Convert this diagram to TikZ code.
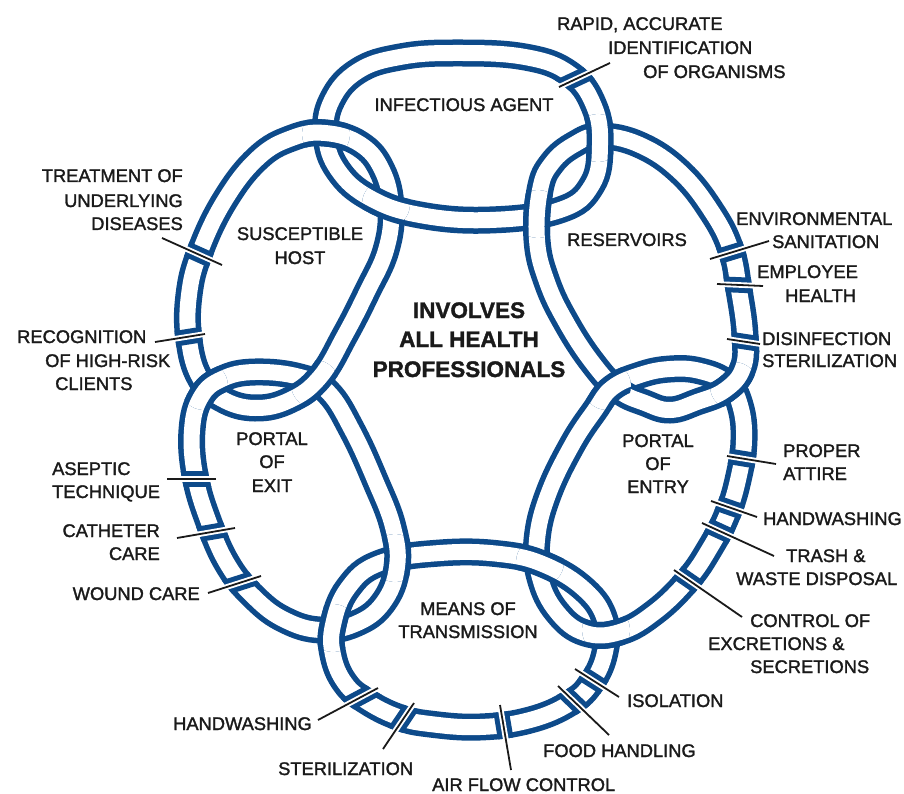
\documentclass[tikz,border=0pt]{standalone}
\usepackage{fontspec}
\setmainfont{Liberation Sans}[FakeBold=1.6]
\usetikzlibrary{calc}
\definecolor{ringblue}{HTML}{0D4A8A}
\definecolor{ink}{HTML}{1A1A1A}
\def\ringA{plot[smooth cycle,tension=0.7] coordinates {(455,53) (525,57) (570,74) (594,106) (600,145) (592,185) (560,210) (490,220) (420,215) (370,198) (338,170) (326,135) (332,100) (358,71) (400,57)}}
\def\ringB{plot[smooth cycle,tension=0.7] coordinates {(325,133) (360,144) (382,170) (391,208) (386,250) (367,292) (345,335) (320,377) (290,400) (255,408) (222,399) (200,378) (189,340) (189,295) (200,252) (225,200) (258,158) (292,138)}}
\def\ringC{plot[smooth cycle,tension=0.7] coordinates {(255,372) (300,377) (328,392) (352,430) (375,480) (393,527) (397,567) (383,603) (355,624) (320,630) (285,620) (255,598) (228,565) (208,520) (195,475) (192,430) (201,397) (222,379)}}
\def\ringD{plot[smooth cycle,tension=0.7] coordinates {(440,553) (500,554) (545,565) (585,590) (605,620) (605,652) (592,682) (570,703) (530,720) (480,727) (430,724) (398,717) (366,701) (345,683) (333,655) (333,625) (348,588) (380,563)}}
\def\ringE{plot[smooth cycle,tension=0.7] coordinates {(612,388) (640,375) (670,369) (700,371) (727,383) (740,405) (744,440) (738,480) (727,515) (710,548) (688,580) (655,612) (620,632) (585,633) (557,612) (540,578) (537,540) (548,495) (572,445) (595,410)}}
\def\ringF{plot[smooth cycle,tension=0.7] coordinates {(600,136) (640,145) (680,172) (712,212) (731,250) (739,290) (745,335) (743,368) (725,390) (697,402) (670,410) (645,403) (618,390) (592,362) (566,322) (547,282) (537,240) (540,190) (552,163) (575,144)}}
\newcommand\ringband[1]{\draw[bandout] #1; \draw[bandin] #1;}
\newcommand\xover[3]{\begin{scope}\clip #2 circle[radius=#3pt]; \draw[bandout] #1; \draw[bandin] #1; \end{scope}}
\newcommand\gapcut[3]{%
  \coordinate (gA) at ($(#2)!-8pt!(#3)$);
  \coordinate (gB) at ($(#3)!-8pt!(#2)$);
  \begin{scope}
    \clip ($(gA)!7.8pt!90:(gB)$) -- ($(gA)!7.8pt!-90:(gB)$) -- ($(gB)!7.8pt!90:(gA)$) -- ($(gB)!7.8pt!-90:(gA)$) -- cycle;
    \draw[ringblue, line width=27pt] #1;
  \end{scope}
  \begin{scope}
    \clip ($(gA)!2.8pt!90:(gB)$) -- ($(gA)!2.8pt!-90:(gB)$) -- ($(gB)!2.8pt!90:(gA)$) -- ($(gB)!2.8pt!-90:(gA)$) -- cycle;
    \draw[white, line width=33pt] #1;
  \end{scope}
  \draw[leader] (#2) -- (#3);
}
\begin{document}
\begin{tikzpicture}[x=1pt,y=-1pt,
  bandout/.style={draw=ringblue, line width=27pt},
  bandin/.style={draw=white, line width=16pt},
  lbl/.style={font=\fontsize{18.3}{20}\selectfont, text=ink, inner sep=0pt},
  ctr/.style={font=\bfseries\fontsize{22.5}{26}\selectfont, text=ink, inner sep=0pt},
  leader/.style={draw=ink, line width=1.8pt}]
\useasboundingbox (0,0) rectangle (904,794);
% rings
\ringband{\ringA}
\ringband{\ringB}
\ringband{\ringC}
\ringband{\ringD}
\ringband{\ringE}
\ringband{\ringF}
% crossings (over ring, point, radius)
\xover{\ringB}{(326,134)}{24}
\xover{\ringA}{(386,204)}{24}
\xover{\ringA}{(598,138)}{24}
\xover{\ringF}{(538,214)}{24}
\xover{\ringC}{(204,386)}{24}
\xover{\ringB}{(315,384)}{24}
\xover{\ringC}{(395,558)}{24}
\xover{\ringD}{(333,628)}{24}
\xover{\ringD}{(540,562)}{24}
\xover{\ringE}{(606,630)}{24}
\xover{\ringE}{(607,386)}{24}
\xover{\ringF}{(734,386)}{24}
% leader end points
\coordinate (a1) at (559,87);  \coordinate (a2) at (610,63);
\coordinate (b1) at (222,265); \coordinate (b2) at (162,238);
\coordinate (b3) at (205,334); \coordinate (b4) at (155,342);
\coordinate (c1) at (216,479); \coordinate (c2) at (167,479);
\coordinate (c3) at (235,528); \coordinate (c4) at (177,538);
\coordinate (c5) at (261,576); \coordinate (c6) at (208,593);
\coordinate (d1) at (378,688); \coordinate (d2) at (318,720);
\coordinate (d3) at (414,703); \coordinate (d4) at (383,749);
\coordinate (d5) at (500,705); \coordinate (d6) at (511,770);
\coordinate (d7) at (558,686); \coordinate (d8) at (609,735);
\coordinate (d9) at (575,669); \coordinate (d10) at (619,697);
\coordinate (e1) at (727,456); \coordinate (e2) at (776,464);
\coordinate (e3) at (711,501); \coordinate (e4) at (757,517);
\coordinate (e5) at (702,523); \coordinate (e6) at (774,556);
\coordinate (e7) at (674,570); \coordinate (e8) at (742,617);
\coordinate (f1) at (710,259); \coordinate (f2) at (769,241);
\coordinate (f3) at (717,284); \coordinate (f4) at (763,286);
\coordinate (f5) at (727,339); \coordinate (f6) at (760,344);
% gaps with leaders
\gapcut{\ringA}{a1}{a2}
\gapcut{\ringB}{b1}{b2}
\gapcut{\ringB}{b3}{b4}
\gapcut{\ringC}{c1}{c2}
\gapcut{\ringC}{c3}{c4}
\gapcut{\ringC}{c5}{c6}
\gapcut{\ringD}{d1}{d2}
\gapcut{\ringD}{d3}{d4}
\gapcut{\ringD}{d5}{d6}
\gapcut{\ringD}{d7}{d8}
\gapcut{\ringD}{d9}{d10}
\gapcut{\ringE}{e1}{e2}
\gapcut{\ringE}{e3}{e4}
\gapcut{\ringE}{e5}{e6}
\gapcut{\ringE}{e7}{e8}
\gapcut{\ringF}{f1}{f2}
\gapcut{\ringF}{f3}{f4}
\gapcut{\ringF}{f5}{f6}
% ring labels
\node[lbl, anchor=base] (tA) at (464,111) {INFECTIOUS AGENT};
\node[lbl, anchor=base] (tB1) at (300,240) {SUSCEPTIBLE};
\node[lbl, anchor=base] (tB2) at (300,264) {HOST};
\node[lbl, anchor=base] (tF) at (627,246) {RESERVOIRS};
\node[lbl, anchor=base] (tC1) at (272,445) {PORTAL};
\node[lbl, anchor=base] (tC2) at (272,468) {OF};
\node[lbl, anchor=base] (tC3) at (272,492) {EXIT};
\node[lbl, anchor=base] (tE1) at (658,447) {PORTAL};
\node[lbl, anchor=base] (tE2) at (658,470) {OF};
\node[lbl, anchor=base] (tE3) at (658,493) {ENTRY};
\node[lbl, anchor=base] (tD1) at (468,615) {MEANS OF};
\node[lbl, anchor=base] (tD2) at (468,638) {TRANSMISSION};
% centre
\node[ctr, anchor=base] (m1) at (469,318) {INVOLVES};
\node[ctr, anchor=base] (m2) at (469,347) {ALL HEALTH};
\node[ctr, anchor=base] (m3) at (469,377) {PROFESSIONALS};
% outer labels
\node[lbl, anchor=base west] (o1) at (557,30) {RAPID, ACCURATE};
\node[lbl, anchor=base west] (o2) at (608,54) {IDENTIFICATION};
\node[lbl, anchor=base west] (o3) at (643,78) {OF ORGANISMS};
\node[lbl, anchor=base east] (o4) at (183,182) {TREATMENT OF};
\node[lbl, anchor=base east] (o5) at (183,207) {UNDERLYING};
\node[lbl, anchor=base east] (o6) at (183,230) {DISEASES};
\node[lbl, anchor=base west] (o7) at (17,343) {RECOGNITION};
\node[lbl, anchor=base west] (o8) at (45,367) {OF HIGH-RISK};
\node[lbl, anchor=base west] (o9) at (55,390) {CLIENTS};
\node[lbl, anchor=base west] (o10) at (52,475) {ASEPTIC};
\node[lbl, anchor=base west] (o11) at (52,498) {TECHNIQUE};
\node[lbl, anchor=base east] (o12) at (160,537) {CATHETER};
\node[lbl, anchor=base east] (o13) at (160,560) {CARE};
\node[lbl, anchor=base east] (o14) at (200,600) {WOUND CARE};
\node[lbl, anchor=base west] (o15) at (173,730) {HANDWASHING};
\node[lbl, anchor=base west] (o16) at (278,775) {STERILIZATION};
\node[lbl, anchor=base west] (o17) at (432,791) {AIR FLOW CONTROL};
\node[lbl, anchor=base west] (o18) at (543,757) {FOOD HANDLING};
\node[lbl, anchor=base west] (o19) at (627,707) {ISOLATION};
\node[lbl, anchor=base west] (o20) at (750,627) {CONTROL OF};
\node[lbl, anchor=base west] (o21) at (708,650) {EXCRETIONS \&};
\node[lbl, anchor=base west] (o22) at (750,673) {SECRETIONS};
\node[lbl, anchor=base west] (o23) at (786,562) {TRASH \&};
\node[lbl, anchor=base west] (o24) at (736,585) {WASTE DISPOSAL};
\node[lbl, anchor=base west] (o25) at (763,525) {HANDWASHING};
\node[lbl, anchor=base west] (o26) at (783,457) {PROPER};
\node[lbl, anchor=base west] (o27) at (783,480) {ATTIRE};
\node[lbl, anchor=base west] (o28) at (762,345) {DISINFECTION};
\node[lbl, anchor=base west] (o29) at (762,367) {STERILIZATION};
\node[lbl, anchor=base west] (o30) at (757,278) {EMPLOYEE};
\node[lbl, anchor=base west] (o31) at (785,302) {HEALTH};
\node[lbl, anchor=base west] (o32) at (736,225) {ENVIRONMENTAL};
\node[lbl, anchor=base west] (o33) at (772,248) {SANITATION};
\end{tikzpicture}
\end{document}
